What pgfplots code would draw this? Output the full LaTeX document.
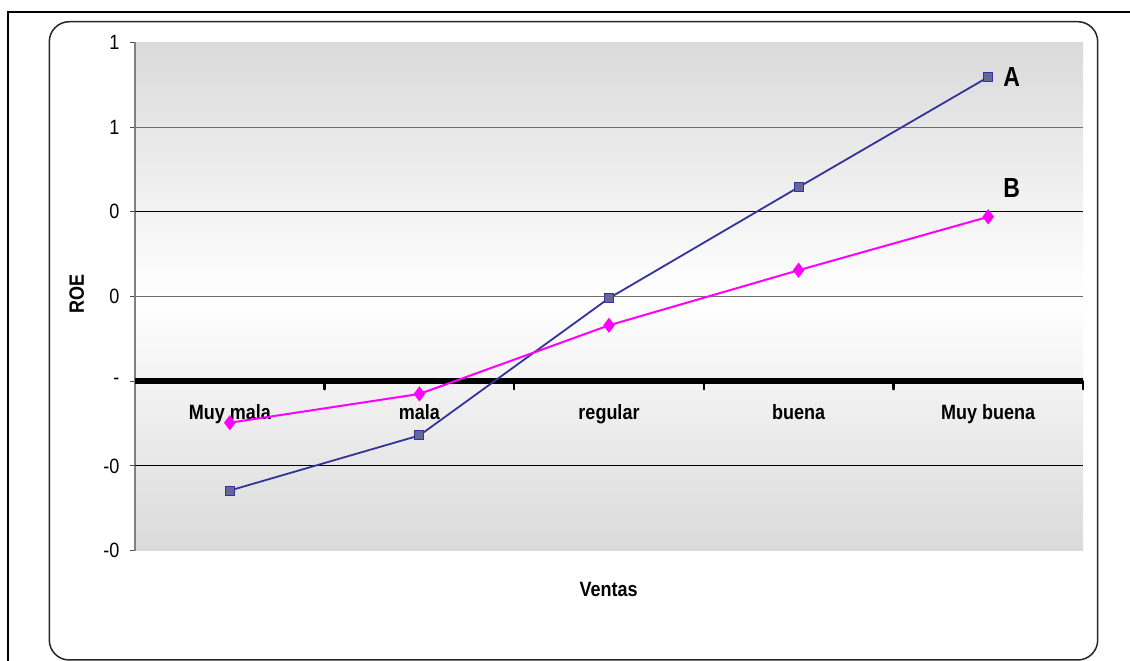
\documentclass[border=0pt]{standalone}
\usepackage{fontspec}
\setmainfont{Liberation Sans}
\usepackage{graphicx}
\usepackage{pgfplots}
\pgfplotsset{compat=1.18}
\definecolor{serA}{HTML}{333399}
\definecolor{serAfill}{HTML}{666699}
\definecolor{serB}{HTML}{FF00FF}
\definecolor{bggray}{HTML}{DADADA}
\definecolor{gridgray}{HTML}{6E6E6E}
\definecolor{axisgray}{HTML}{808080}
% labels are set slightly taller than wide
\newcommand\tall[1]{\scalebox{1}[1.15]{#1}}

\begin{document}
\begin{tikzpicture}
\useasboundingbox (0,0) rectangle (1130pt,661pt);
% outer page frame and rounded chart frame
\draw[line width=2pt] (8.3pt,-10pt) -- (8.3pt,649.3pt) -- (1140pt,649.3pt);
\draw[line width=1.5pt, black!85, rounded corners=20pt] (49.3pt,1pt) rectangle (1097.7pt,639.3pt);
\begin{axis}[
  at={(135pt,110.3pt)}, anchor=south west,
  scale only axis, width=948pt, height=508.4pt,
  xmin=0.5, xmax=5.5, ymin=-2, ymax=4,
  axis x line=middle, axis y line=left,
  hide obscured x ticks=false, hide obscured y ticks=false,
  x axis line style={draw=none},
  y axis line style={-, axisgray, line width=1.5pt},
  axis background/.style={top color=bggray, bottom color=bggray, middle color=white},
  xtick={1,...,5},
  xticklabels={\tall{Muy mala}, \tall{mala}, \tall{regular}, \tall{buena}, \tall{Muy buena}},
  minor xtick={0.5,1.5,...,5.5},
  major x tick style={draw=none},
  minor x tick style={black, line width=2.5pt, line cap=round},
  minor tick length=8pt,
  ytick={-2,...,4},
  yticklabels={\tall{-0},\tall{-0},\tall{-},\tall{0},\tall{0},\tall{1},\tall{1}},
  major tick length=5pt,
  tick align=outside,
  y tick style={black!70, line width=1pt},
  xticklabel style={font=\bfseries\fontsize{18}{20}\selectfont, yshift=-15pt},
  yticklabel style={font=\fontsize{18}{20}\selectfont, xshift=-7pt},
  xlabel={\tall{Ventas}}, ylabel={\tall{ROE}},
  xlabel style={font=\bfseries\fontsize{18}{20}\selectfont, at={(axis description cs:0.4997,-0.076)}, anchor=center},
  ylabel style={font=\bfseries\fontsize{18}{20}\selectfont, at={(axis description cs:-0.0615,0.505)}, anchor=center, rotate=0},
  clip=false,
]
% horizontal grid lines
\addplot[gridgray, line width=1pt, forget plot] coordinates {(0.5,1) (5.5,1)};
\addplot[gridgray, line width=1pt, forget plot] coordinates {(0.5,3) (5.5,3)};
\addplot[black, line width=1pt, forget plot] coordinates {(0.5,2) (5.5,2)};
\addplot[black, line width=1pt, forget plot] coordinates {(0.5,-1) (5.5,-1)};
% heavy zero line, kept below the series
\addplot[black, line width=5.5pt, forget plot] coordinates {(0.5,0) (5.5,0)};
% series A
\addplot[serA, line width=1.8pt, mark=square*, mark size=4.5pt,
  mark options={fill=serAfill, draw=serA, line width=1pt}]
  coordinates {(1,-1.29) (2,-0.64) (3,0.98) (4,2.29) (5,3.59)};
% series B
\addplot[serB, line width=2pt, mark=diamond*, mark size=6pt,
  mark options={fill=serB, draw=serB}]
  coordinates {(1,-0.49) (2,-0.15) (3,0.66) (4,1.31) (5,1.94)};
\node[font=\bfseries\fontsize{23}{25}\selectfont] at (axis cs:5.124,3.587) {\scalebox{1}[1.2]{A}};
\node[font=\bfseries\fontsize{23}{25}\selectfont] at (axis cs:5.124,2.283) {\scalebox{1}[1.2]{B}};
\end{axis}
\end{tikzpicture}
\end{document}
